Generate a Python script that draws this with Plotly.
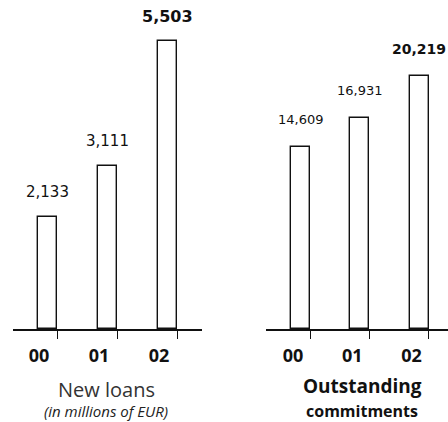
import plotly.graph_objects as go

# Data
years = ["00", "01", "02"]
new_loans = [2133, 3111, 5503]
outstanding = [14609, 16931, 20219]

W, H = 448, 422
BASE_PX = 329          # vertical pixel position of the baseline
BAR_W_L = 0.317
BAR_W_R = 0.32

fig = go.Figure()

idx = list(range(len(years)))

fig.add_trace(go.Bar(
    x=idx, y=new_loans, width=BAR_W_L,
    marker=dict(color="white", line=dict(color="#111", width=1.4)),
    xaxis="x", yaxis="y", hoverinfo="skip", showlegend=False,
))
fig.add_trace(go.Bar(
    x=idx, y=outstanding, width=BAR_W_R,
    marker=dict(color="white", line=dict(color="#111", width=1.4)),
    xaxis="x2", yaxis="y2", hoverinfo="skip", showlegend=False,
))

# Value labels above the bars (latest year in bold)
annotations = []
for i, v in enumerate(new_loans):
    last = i == len(new_loans) - 1
    txt = f"{v:,}"
    annotations.append(dict(
        x=i, y=v, xref="x", yref="y", yanchor="middle", yshift=25,
        text=f"<b>{txt}</b>" if last else txt, showarrow=False,
        font=dict(family="DejaVu Sans", size=16 if last else 15, color="#111"),
    ))
for i, v in enumerate(outstanding):
    last = i == len(outstanding) - 1
    txt = f"{v:,}"
    annotations.append(dict(
        x=i, y=v, xref="x2", yref="y2", yanchor="middle", yshift=27,
        text=f"<b>{txt}</b>" if last else txt, showarrow=False,
        font=dict(family="DejaVu Sans", size=14 if last else 13, color="#111"),
    ))

def px_x(p):
    return p / W

def px_y(p):
    return 1 - p / H

# Panel captions
caption = dict(xref="paper", yref="paper", showarrow=False,
               xanchor="center", yanchor="middle")
annotations += [
    dict(x=px_x(106), y=px_y(389), text="New loans",
         font=dict(family="Open Sans", size=20, color="#333"), **caption),
    dict(x=px_x(106), y=px_y(411), text="<i>(in millions of EUR)</i>",
         font=dict(family="Open Sans", size=15, color="#222"), **caption),
    dict(x=px_x(362), y=px_y(386), text="<b>Outstanding</b>",
         font=dict(family="Open Sans", size=19, color="#111"), **caption),
    dict(x=px_x(362), y=px_y(410.5), text="<b>commitments</b>",
         font=dict(family="Open Sans", size=16, color="#111"), **caption),
]

ydom = [(H - BASE_PX) / H, 1]
tickfont = dict(family="Open Sans", size=18, color="#111", weight="bold")

axis_common = dict(
    showline=True, linecolor="#111", linewidth=2,
    showgrid=False, zeroline=False,
    ticks="outside", ticklen=8, tickwidth=1, tickcolor="#111",
    tickfont=tickfont, ticktext=years,
)

fig.update_layout(
    width=W, height=H,
    margin=dict(l=0, r=0, t=0, b=0),
    paper_bgcolor="white", plot_bgcolor="white",
    bargap=0,
    xaxis=dict(domain=[13 / W, 202 / W], range=[-0.575, 2.575], anchor="y",
               tickvals=[i + BAR_W_L / 2 for i in idx], ticklabelshift=-18,
               ticklabelstandoff=1, **axis_common),
    xaxis2=dict(domain=[266 / W, 1], range=[-0.582, 2.487], anchor="y2",
                tickvals=[i + BAR_W_R / 2 for i in idx], ticklabelshift=-17,
                ticklabelstandoff=1, **axis_common),
    yaxis=dict(domain=ydom, range=[0, BASE_PX / 0.0523], visible=False,
               anchor="x"),
    yaxis2=dict(domain=ydom, range=[0, BASE_PX / 0.01249], visible=False,
                anchor="x2"),
    annotations=annotations,
)

fig.write_html("out.html")
